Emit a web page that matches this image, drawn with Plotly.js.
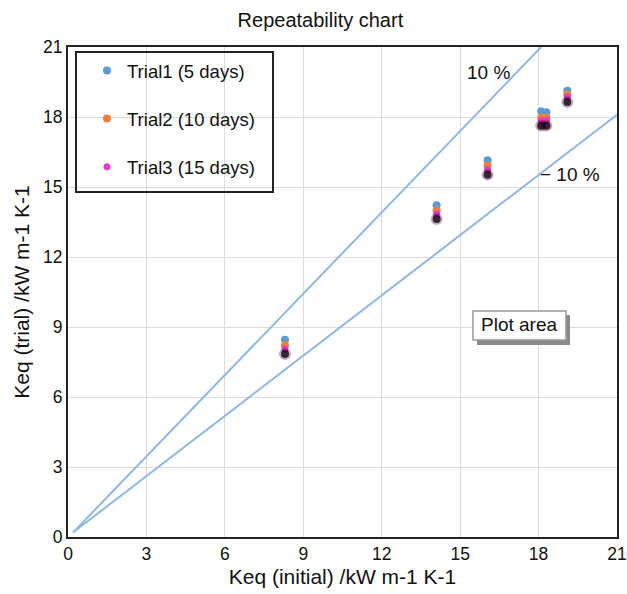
<!DOCTYPE html>
<html>
<head>
<meta charset="utf-8">
<script src="https://cdn.plot.ly/plotly-3.0.1.min.js"></script>
<style>html,body{margin:0;padding:0;background:#fff;}#chart{width:627px;height:594px;}</style>
</head>
<body>
<div id="chart"></div>
<script>
// Data
const initialK = [8.3, 14.1, 16.05, 18.1, 18.3, 19.1];
const trial1 = [8.45, 14.22, 16.15, 18.25, 18.2, 19.12];
const trial2 = [8.22, 14.0, 15.92, 17.98, 17.98, 18.96];
const trial3 = [8.06, 13.85, 15.75, 17.85, 17.85, 18.86];
const seriesNames = ["Trial1 (5 days)", "Trial2 (10 days)", "Trial3 (15 days)"];
const upperLineX = [0.2, 18.1];
const upperLineY = [0.2, 21];
const lowerLineX = [0.2, 21];
const lowerLineY = [0.2, 18.1];
const axisTicks = [0, 3, 6, 9, 12, 15, 18, 21];

const FONT = "Liberation Sans, Arial, Helvetica, sans-serif";
const lineStyle = {color: "#8db8e3", width: 2};

const traces = [
  {x: upperLineX, y: upperLineY, mode: "lines", line: lineStyle, showlegend: false, hoverinfo: "skip"},
  {x: lowerLineX, y: lowerLineY, mode: "lines", line: lineStyle, showlegend: false, hoverinfo: "skip"},
  // soft drop shadow of the markers (same values drawn on a slightly shifted overlay axis)
  {x: initialK, y: trial3, yaxis: "y2", mode: "markers", showlegend: false, hoverinfo: "skip",
   marker: {size: 12, color: "rgba(50,0,40,0.3)"}},
  {x: initialK, y: trial3, yaxis: "y2", mode: "markers", showlegend: false, hoverinfo: "skip",
   marker: {size: 8, color: "rgba(25,0,25,0.8)"}},
  {x: initialK, y: trial1, name: seriesNames[0], mode: "markers", legendgroup: "a",
   marker: {size: 8, color: "#5b9bd5"}},
  {x: initialK, y: trial2, name: seriesNames[1], mode: "markers", legendgroup: "b",
   marker: {size: 8, color: "#f07f3c"}},
  {x: initialK, y: trial3, name: seriesNames[2], mode: "markers", legendgroup: "c",
   marker: {size: 7, color: "#e83cc8"}}
];

const W = 627, H = 594, L = 68, R = 10, T = 47, B = 57;
const pw = W - L - R, ph = H - T - B;
const px = v => (v - L) / pw;
const py = v => (H - B - v) / ph;

const layout = {
  width: W, height: H,
  margin: {l: L, r: R, t: T, b: B},
  paper_bgcolor: "#fff", plot_bgcolor: "#fff",
  font: {family: FONT, color: "#111", size: 17},
  title: {text: "Repeatability chart", font: {size: 20, family: FONT, color: "#111"},
          xref: "container", x: 0.511, y: 0.966, yanchor: "middle"},
  xaxis: {range: [0, 21], tickvals: axisTicks, ticks: "", showgrid: true, gridcolor: "#dcdcdc",
          zeroline: false, showline: true, linecolor: "#222", linewidth: 2, mirror: true,
          ticklabeloverflow: "allow",
          tickfont: {size: 17.5}, title: {text: "Keq (initial) /kW m-1 K-1", font: {size: 21}, standoff: 6}},
  yaxis: {range: [0, 21], tickvals: axisTicks, ticks: "", showgrid: true, gridcolor: "#dcdcdc",
          zeroline: false, showline: true, linecolor: "#222", linewidth: 2, mirror: true,
          ticklabeloverflow: "allow",
          tickfont: {size: 17.5}, title: {text: "Keq (trial) /kW m-1 K-1", font: {size: 21}, standoff: 8}},
  yaxis2: {range: [0.22, 21.22], overlaying: "y", visible: false},
  showlegend: true,
  legend: {x: px(87), y: py(52), xanchor: "left", yanchor: "top", bgcolor: "rgba(0,0,0,0)",
           borderwidth: 0, font: {size: 18.5, family: FONT}, traceorder: "grouped", tracegroupgap: 21},
  shapes: [
    {type: "rect", xref: "paper", yref: "paper", x0: px(76), x1: px(273), y0: py(52), y1: py(192),
     line: {color: "#222", width: 2}, fillcolor: "rgba(0,0,0,0)"},
    {type: "rect", xref: "paper", yref: "paper", x0: px(477), x1: px(570), y0: py(315), y1: py(345),
     line: {width: 0}, fillcolor: "#8a8a8a"},
    {type: "rect", xref: "paper", yref: "paper", x0: px(473), x1: px(566), y0: py(311), y1: py(340),
     line: {color: "#999", width: 1.5}, fillcolor: "#fff"}
  ],
  annotations: [
    {text: "10 %", xref: "paper", yref: "paper", x: px(488), y: py(73), xanchor: "center", yanchor: "middle",
     showarrow: false, font: {size: 19}},
    {text: "\u2212 10 %", xref: "paper", yref: "paper", x: px(570), y: py(174), xanchor: "center", yanchor: "middle",
     showarrow: false, font: {size: 19}},
    {text: "Plot area", xref: "paper", yref: "paper", x: px(519), y: py(325), xanchor: "center", yanchor: "middle",
     showarrow: false, font: {size: 19}}
  ]
};

Plotly.newPlot("chart", traces, layout, {displayModeBar: false, staticPlot: true});
</script>
</body>
</html>
